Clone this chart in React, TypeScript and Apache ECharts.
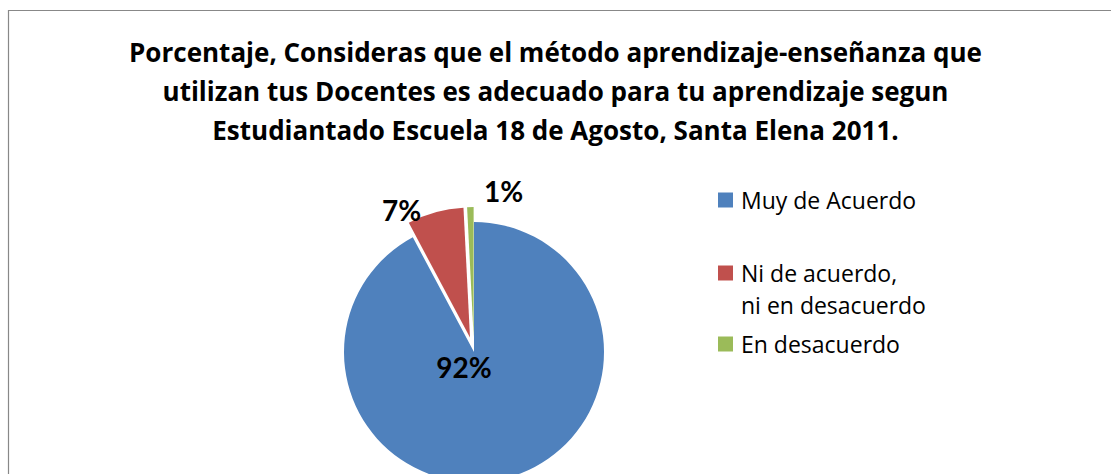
import React, { useEffect, useRef } from "react";
import * as echarts from "echarts";

const titleLines = [
  "Porcentaje, Consideras que el método aprendizaje-enseñanza que",
  "utilizan tus Docentes es adecuado para tu aprendizaje segun",
  "Estudiantado Escuela 18 de Agosto, Santa Elena 2011.",
];
const categories = ["Muy de Acuerdo", "Ni de acuerdo, ni en desacuerdo", "En desacuerdo"];
const values = [92.2, 7.0, 0.8];
const colors = ["#4F81BD", "#C0504D", "#9BBB59"];
const exploded = [false, true, true];

const FONT = "Lato";
const TEXT_FONT = "Open Sans";

export default function App() {
  const ref = useRef<HTMLDivElement>(null);
  useEffect(() => {
    document.body.style.margin = "0";
    const chart = echarts.init(ref.current!, null, { renderer: "svg" });
    const legendTops = [184, 225, 328];
    const labelShift = [
      [-10, 15],
      [-7, 5],
      [58, -8],
    ];
    const option: any = {
      animation: false,
      backgroundColor: "#ffffff",
      title: {
        text: titleLines.join("\n"),
        left: "center",
        top: 32,
        padding: 0,
        textStyle: {
          fontFamily: TEXT_FONT,
          fontSize: 26,
          fontWeight: "bold",
          color: "#000",
          lineHeight: 39.3,
          align: "center",
        },
      },
      legend: categories.map((c, i) => ({
        data: [c],
        orient: "vertical",
        left: 718,
        top: legendTops[i],
        padding: 0,
        itemWidth: 15,
        itemHeight: 15,
        icon: "rect",
        selectedMode: false,
        formatter: (name: string) =>
          name.indexOf(", ") >= 0 ? "\n" + name.replace(", ", ",\n") : name,
        textStyle: {
          fontFamily: TEXT_FONT,
          fontSize: 23,
          color: "#000",
          lineHeight: 32,
          padding: [0, 0, 0, 3],
        },
      })),
      graphic: [
        {
          type: "rect",
          shape: { x: 8.5, y: 10.5, width: 1300, height: 700 },
          style: { fill: "none", stroke: "#888888", lineWidth: 1.2 },
          silent: true,
        },
      ],
      series: [
        {
          type: "pie",
          center: [474, 352],
          radius: 130,
          startAngle: 90,
          clockwise: true,
          avoidLabelOverlap: false,
          selectedMode: "multiple",
          selectedOffset: 15,
          emphasis: { disabled: true },
          label: {
            show: true,
            position: "outside",
            formatter: (p: any) => Math.round(p.percent) + "%",
            fontFamily: FONT,
            fontSize: 28,
            fontWeight: "bold",
            color: "#000",
          },
          labelLine: { show: false, length: 8, length2: 0 },
          labelLayout: (p: any) => ({
            hideOverlap: false,
            dx: labelShift[p.dataIndex][0],
            dy: labelShift[p.dataIndex][1],
          }),
          data: categories.map((c, i) => ({
            name: c,
            value: values[i],
            selected: exploded[i],
            itemStyle: { color: colors[i] },
            label: i === 0 ? { position: "center" } : { show: true },
          })),
        },
      ],
    };
    chart.setOption(option);
    return () => chart.dispose();
  }, []);
  return <div ref={ref} style={{ width: 1111, height: 474 }} />;
}
